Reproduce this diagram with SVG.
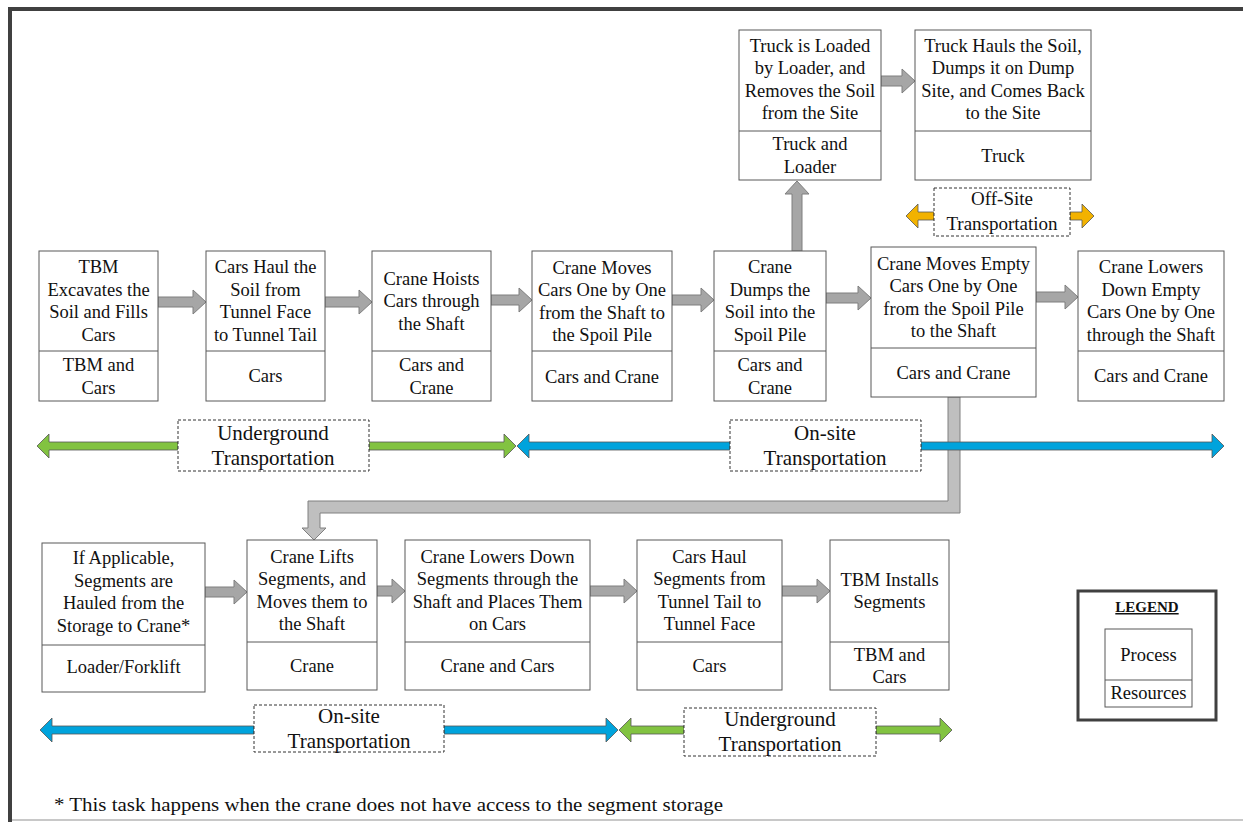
<svg xmlns="http://www.w3.org/2000/svg" width="1243" height="822" viewBox="0 0 1243 822">
<style>
.box{fill:#fff;stroke:#595959;stroke-width:1}
.t{font-family:"Liberation Serif","Times New Roman",serif;font-size:18.5px;fill:#111;text-anchor:middle}
.tl{font-family:"Liberation Serif","Times New Roman",serif;font-size:21px;fill:#111;text-anchor:middle}
.ga{fill:#A6A6A6;stroke:#7F7F7F;stroke-width:1}
.la{fill:#BFBFBF;stroke:#808080;stroke-width:1}
.green{fill:#82C341;stroke:#555;stroke-width:0.8}
.blue{fill:#00A3DC;stroke:#555;stroke-width:0.8}
.orange{fill:#F2B200;stroke:#555;stroke-width:0.8}
.dash{fill:#fff;stroke:#333;stroke-width:1;stroke-dasharray:3 2}
</style>
<rect width="1243" height="822" fill="#fff"/>
<g id="frame">
<line x1="8" y1="9" x2="1243" y2="9" stroke="#404040" stroke-width="4"/>
<line x1="10" y1="7" x2="10" y2="822" stroke="#404040" stroke-width="4"/>
<line x1="12" y1="820" x2="1243" y2="820" stroke="#C8C8C8" stroke-width="2"/>
</g>
<g id="connectors">
<path class="ga" d="M158 297 H193 V290 L206 302 L193 314 V307 H158 Z"/>
<path class="ga" d="M325 297 H359 V290 L372 302 L359 314 V307 H325 Z"/>
<path class="ga" d="M491 295 H519 V288 L532 300 L519 312 V305 H491 Z"/>
<path class="ga" d="M672 295 H701 V288 L714 300 L701 312 V305 H672 Z"/>
<path class="ga" d="M826 293 H858 V286 L871 298 L858 310 V303 H826 Z"/>
<path class="ga" d="M1036 292 H1065 V285 L1078 297 L1065 309 V302 H1036 Z"/>
<path class="ga" d="M881 76 H902 V69 L915 81 L902 93 V86 H881 Z"/>
<path class="ga" d="M792 251 V194 H785 L797 181 L809 194 H802 V251 Z"/>
<path class="la" d="M948 397 H960 V513 H320 V528 H326 L314 540 L302 528 H308 V501 H948 Z"/>
<path class="ga" d="M205 587 H234 V580 L247 592 L234 604 V597 H205 Z"/>
<path class="ga" d="M377 586 H392 V579 L405 591 L392 603 V596 H377 Z"/>
<path class="ga" d="M590 586 H624 V579 L637 591 L624 603 V596 H590 Z"/>
<path class="ga" d="M782 586 H817 V579 L830 591 L817 603 V596 H782 Z"/>
</g>
<g id="transport-row1">
<path class="green" d="M178 442 H49 V434 L37 446 L49 458 V450 H178 Z"/>
<path class="green" d="M369 442 H504 V434 L516 446 L504 458 V450 H369 Z"/>
<path class="blue" d="M730 442 H529 V434 L517 446 L529 458 V450 H730 Z"/>
<path class="blue" d="M921 442 H1212 V434 L1224 446 L1212 458 V450 H921 Z"/>
<rect class="dash" x="178" y="420" width="191" height="51"/>
<text class="tl" x="273" y="440">Underground</text>
<text class="tl" x="273" y="465">Transportation</text>
<rect class="dash" x="730" y="420" width="191" height="51"/>
<text class="tl" x="825" y="440">On-site</text>
<text class="tl" x="825" y="465">Transportation</text>
</g>
<g id="transport-offsite">
<path class="orange" d="M934 212 H918 V204 L906 216 L918 228 V220 H934 Z"/>
<path class="orange" d="M1070 212 H1082 V204 L1094 216 L1082 228 V220 H1070 Z"/>
<rect class="dash" x="934" y="188" width="136" height="48"/>
<text class="t" x="1002" y="205" style="font-size:19px">Off-Site</text>
<text class="t" x="1002" y="230" style="font-size:19px">Transportation</text>
</g>
<g id="transport-row2">
<path class="blue" d="M254 726 H52 V718 L40 730 L52 742 V734 H254 Z"/>
<path class="blue" d="M444 726 H606 V718 L618 730 L606 742 V734 H444 Z"/>
<path class="green" d="M684 726 H631 V718 L619 730 L631 742 V734 H684 Z"/>
<path class="green" d="M876 726 H940 V718 L952 730 L940 742 V734 H876 Z"/>
<rect class="dash" x="254" y="705" width="190" height="47"/>
<text class="tl" x="349" y="723">On-site</text>
<text class="tl" x="349" y="748">Transportation</text>
<rect class="dash" x="684" y="708" width="192" height="48"/>
<text class="tl" x="780" y="726">Underground</text>
<text class="tl" x="780" y="751">Transportation</text>
</g>
<g id="n1">
<rect class="box" x="39" y="251" width="119" height="150"/><line class="box" x1="39" y1="351" x2="158" y2="351"/>
<text class="t" x="98.5" y="273">TBM</text><text class="t" x="98.5" y="296">Excavates the</text><text class="t" x="98.5" y="318">Soil and Fills</text><text class="t" x="98.5" y="341">Cars</text>
<text class="t" x="98.5" y="371">TBM and</text><text class="t" x="98.5" y="394">Cars</text>
</g>
<g id="n2">
<rect class="box" x="206" y="251" width="119" height="150"/><line class="box" x1="206" y1="351" x2="325" y2="351"/>
<text class="t" x="265.5" y="273">Cars Haul the</text><text class="t" x="265.5" y="296">Soil from</text><text class="t" x="265.5" y="318">Tunnel Face</text><text class="t" x="265.5" y="341">to Tunnel Tail</text>
<text class="t" x="265.5" y="382">Cars</text>
</g>
<g id="n3">
<rect class="box" x="372" y="251" width="119" height="150"/><line class="box" x1="372" y1="351" x2="491" y2="351"/>
<text class="t" x="431.5" y="285">Crane Hoists</text><text class="t" x="431.5" y="307">Cars through</text><text class="t" x="431.5" y="330">the Shaft</text>
<text class="t" x="431.5" y="371">Cars and</text><text class="t" x="431.5" y="394">Crane</text>
</g>
<g id="n4">
<rect class="box" x="532" y="251" width="140" height="150"/><line class="box" x1="532" y1="351" x2="672" y2="351"/>
<text class="t" x="602" y="274">Crane Moves</text><text class="t" x="602" y="296">Cars One by One</text><text class="t" x="602" y="319">from the Shaft to</text><text class="t" x="602" y="341">the Spoil Pile</text>
<text class="t" x="602" y="383">Cars and Crane</text>
</g>
<g id="n5">
<rect class="box" x="714" y="251" width="112" height="150"/><line class="box" x1="714" y1="351" x2="826" y2="351"/>
<text class="t" x="770" y="273">Crane</text><text class="t" x="770" y="296">Dumps the</text><text class="t" x="770" y="318">Soil into the</text><text class="t" x="770" y="341">Spoil Pile</text>
<text class="t" x="770" y="371">Cars and</text><text class="t" x="770" y="394">Crane</text>
</g>
<g id="n6">
<rect class="box" x="871" y="247" width="165" height="150"/><line class="box" x1="871" y1="348" x2="1036" y2="348"/>
<text class="t" x="953.5" y="270">Crane Moves Empty</text><text class="t" x="953.5" y="292">Cars One by One</text><text class="t" x="953.5" y="315">from the Spoil Pile</text><text class="t" x="953.5" y="337">to the Shaft</text>
<text class="t" x="953.5" y="379">Cars and Crane</text>
</g>
<g id="n7">
<rect class="box" x="1078" y="251" width="146" height="150"/><line class="box" x1="1078" y1="351" x2="1224" y2="351"/>
<text class="t" x="1151" y="273">Crane Lowers</text><text class="t" x="1151" y="296">Down Empty</text><text class="t" x="1151" y="318">Cars One by One</text><text class="t" x="1151" y="341">through the Shaft</text>
<text class="t" x="1151" y="382">Cars and Crane</text>
</g>
<g id="n8">
<rect class="box" x="739" y="30" width="142" height="150"/><line class="box" x1="739" y1="131" x2="881" y2="131"/>
<text class="t" x="810" y="52">Truck is Loaded</text><text class="t" x="810" y="74">by Loader, and</text><text class="t" x="810" y="97">Removes the Soil</text><text class="t" x="810" y="119">from the Site</text>
<text class="t" x="810" y="150">Truck and</text><text class="t" x="810" y="173">Loader</text>
</g>
<g id="n9">
<rect class="box" x="915" y="30" width="176" height="150"/><line class="box" x1="915" y1="131" x2="1091" y2="131"/>
<text class="t" x="1003" y="52">Truck Hauls the Soil,</text><text class="t" x="1003" y="74">Dumps it on Dump</text><text class="t" x="1003" y="97">Site, and Comes Back</text><text class="t" x="1003" y="119">to the Site</text>
<text class="t" x="1003" y="162">Truck</text>
</g>
<g id="n10">
<rect class="box" x="42" y="543" width="163" height="149"/><line class="box" x1="42" y1="645" x2="205" y2="645"/>
<text class="t" x="123.5" y="564">If Applicable,</text><text class="t" x="123.5" y="587">Segments are</text><text class="t" x="123.5" y="609">Hauled from the</text><text class="t" x="123.5" y="632">Storage to Crane*</text>
<text class="t" x="123.5" y="673">Loader/Forklift</text>
</g>
<g id="n11">
<rect class="box" x="247" y="540" width="130" height="150"/><line class="box" x1="247" y1="642" x2="377" y2="642"/>
<text class="t" x="312" y="563">Crane Lifts</text><text class="t" x="312" y="585">Segments, and</text><text class="t" x="312" y="608">Moves them  to</text><text class="t" x="312" y="630">the Shaft</text>
<text class="t" x="312" y="672">Crane</text>
</g>
<g id="n12">
<rect class="box" x="405" y="540" width="185" height="150"/><line class="box" x1="405" y1="642" x2="590" y2="642"/>
<text class="t" x="497.5" y="563">Crane Lowers Down</text><text class="t" x="497.5" y="585">Segments through the</text><text class="t" x="497.5" y="608">Shaft and Places Them</text><text class="t" x="497.5" y="630">on Cars</text>
<text class="t" x="497.5" y="672">Crane and Cars</text>
</g>
<g id="n13">
<rect class="box" x="637" y="540" width="145" height="150"/><line class="box" x1="637" y1="642" x2="782" y2="642"/>
<text class="t" x="709.5" y="563">Cars Haul</text><text class="t" x="709.5" y="585">Segments from</text><text class="t" x="709.5" y="608">Tunnel Tail to</text><text class="t" x="709.5" y="630">Tunnel Face</text>
<text class="t" x="709.5" y="672">Cars</text>
</g>
<g id="n14">
<rect class="box" x="830" y="540" width="119" height="150"/><line class="box" x1="830" y1="642" x2="949" y2="642"/>
<text class="t" x="889.5" y="586">TBM Installs</text><text class="t" x="889.5" y="608">Segments</text>
<text class="t" x="889.5" y="661">TBM and</text><text class="t" x="889.5" y="683">Cars</text>
</g>
<g id="legend">
<rect x="1078" y="591" width="138" height="129" fill="#fff" stroke="#404040" stroke-width="3"/>
<text class="t" x="1147" y="612" style="font-size:15px;font-weight:bold;text-decoration:underline">LEGEND</text>
<rect class="box" x="1105" y="629" width="87" height="78"/><line class="box" x1="1105" y1="680" x2="1192" y2="680"/>
<text class="t" x="1148.5" y="661">Process</text>
<text class="t" x="1148.5" y="699">Resources</text>
</g>
<g id="footnote">
<text x="54" y="811" style="font-family:'Liberation Serif','Times New Roman',serif;font-size:19px;fill:#111" textLength="669" lengthAdjust="spacingAndGlyphs">* This task happens when the crane does not have access to the segment storage</text>
</g>
</svg>
